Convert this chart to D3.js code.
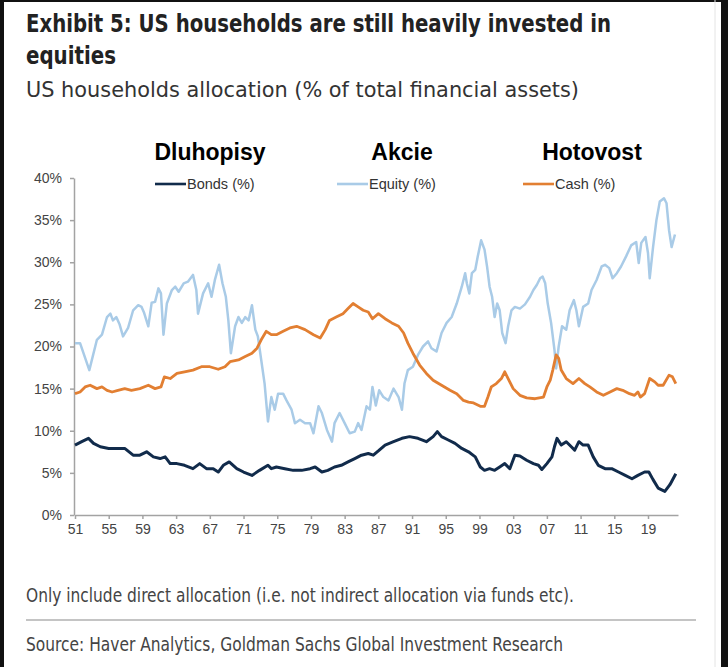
<!DOCTYPE html>
<html>
<head>
<meta charset="utf-8">
<script src="https://cdn.jsdelivr.net/npm/d3@7"></script>
<style>
  body { margin: 0; background: #fff; }
  .narrow { font-family: "Liberation Sans Narrow", "DejaVu Sans Condensed", "Roboto", sans-serif; }
  .tick text { font-family: "Liberation Sans", Arial, sans-serif; font-size: 14px; fill: #444; }
</style>
</head>
<body>
<div id="graf"></div>
<script>
// series (year, % of total financial assets)
const equityYears = [1951.0, 1951.6, 1952.7, 1953.6, 1954.2, 1954.8, 1955.2, 1955.5, 1955.9, 1956.3, 1956.7, 1957.3, 1957.9, 1958.5, 1958.9, 1959.2, 1959.7, 1960.1, 1960.5, 1960.9, 1961.2, 1961.5, 1961.9, 1962.5, 1962.9, 1963.3, 1963.9, 1964.4, 1965.0, 1965.4, 1965.6, 1966.2, 1966.8, 1967.2, 1967.6, 1968.1, 1968.5, 1968.9, 1969.2, 1969.5, 1970.0, 1970.4, 1970.8, 1971.2, 1971.6, 1972.0, 1972.4, 1972.7, 1973.1, 1973.5, 1973.9, 1974.3, 1974.7, 1975.1, 1975.7, 1976.1, 1976.7, 1977.1, 1977.7, 1978.3, 1978.9, 1979.3, 1979.9, 1980.3, 1980.9, 1981.5, 1981.8, 1982.4, 1983.0, 1983.6, 1984.2, 1984.6, 1985.0, 1985.6, 1986.0, 1986.3, 1986.7, 1987.1, 1987.6, 1988.2, 1988.8, 1989.4, 1989.8, 1990.1, 1990.5, 1991.1, 1991.7, 1992.3, 1992.9, 1993.3, 1993.9, 1994.5, 1995.1, 1995.7, 1996.3, 1996.9, 1997.3, 1997.5, 1997.8, 1998.1, 1998.5, 1998.8, 1999.2, 1999.6, 1999.9, 2000.2, 2000.5, 2000.8, 2001.1, 2001.4, 2001.7, 2002.1, 2002.4, 2002.8, 2003.2, 2003.8, 2004.4, 2005.0, 2005.4, 2005.8, 2006.2, 2006.5, 2006.8, 2007.1, 2007.5, 2007.9, 2008.1, 2008.4, 2008.8, 2009.3, 2009.7, 2010.2, 2010.5, 2010.8, 2011.3, 2011.9, 2012.3, 2012.9, 2013.5, 2013.9, 2014.4, 2014.8, 2015.3, 2015.8, 2016.4, 2017.0, 2017.6, 2017.9, 2018.2, 2018.7, 2019.0, 2019.2, 2019.6, 2020.0, 2020.4, 2020.9, 2021.2, 2021.5, 2021.8, 2022.2];
const equityValues = [20.4, 20.4, 17.2, 20.8, 21.4, 23.5, 23.9, 23.1, 23.5, 22.6, 21.2, 22.2, 24.3, 24.9, 24.7, 24.0, 22.4, 25.2, 25.3, 26.9, 26.3, 21.4, 25.1, 26.7, 27.1, 26.5, 27.5, 27.7, 28.5, 26.7, 23.9, 26.3, 27.5, 25.9, 27.9, 29.7, 27.5, 25.9, 23.1, 19.2, 22.4, 23.5, 22.8, 23.5, 23.1, 24.9, 22.0, 21.2, 18.4, 15.6, 11.1, 14.0, 12.5, 14.4, 14.4, 13.6, 12.5, 10.9, 11.3, 10.9, 10.9, 9.7, 12.9, 12.1, 10.1, 8.7, 10.9, 12.1, 10.9, 9.7, 9.9, 10.9, 10.1, 12.9, 12.5, 15.2, 13.0, 14.8, 14.0, 13.6, 15.0, 14.0, 12.5, 15.6, 17.2, 17.6, 19.0, 20.0, 20.6, 19.8, 19.4, 21.6, 22.8, 23.5, 25.1, 27.1, 28.7, 27.5, 26.3, 28.7, 29.1, 30.7, 32.6, 31.5, 29.5, 27.1, 25.9, 23.5, 25.1, 24.3, 21.6, 20.4, 22.4, 24.3, 24.7, 24.5, 25.0, 25.9, 26.7, 27.3, 28.1, 28.3, 27.5, 25.1, 22.8, 19.6, 17.4, 20.0, 22.4, 22.0, 24.3, 25.5, 24.3, 22.4, 24.7, 25.1, 26.7, 27.9, 29.5, 29.7, 29.3, 28.1, 28.7, 29.5, 30.7, 32.0, 32.4, 29.9, 32.3, 33.0, 31.1, 28.1, 31.8, 35.0, 37.2, 37.6, 37.0, 33.8, 31.8, 33.3];

const cashYears = [1951.0, 1951.6, 1952.2, 1952.8, 1953.6, 1954.2, 1954.8, 1955.4, 1956.1, 1956.9, 1957.7, 1958.7, 1959.7, 1960.5, 1961.2, 1961.6, 1962.3, 1963.1, 1964.0, 1965.0, 1966.0, 1967.0, 1968.0, 1968.8, 1969.4, 1970.4, 1971.2, 1972.0, 1972.6, 1973.1, 1973.7, 1974.3, 1974.9, 1975.7, 1976.5, 1977.3, 1978.3, 1979.3, 1980.1, 1980.7, 1981.2, 1982.0, 1982.8, 1983.4, 1984.0, 1984.6, 1985.2, 1985.8, 1986.3, 1987.0, 1987.8, 1988.6, 1989.4, 1990.0, 1990.5, 1991.1, 1991.9, 1992.7, 1993.5, 1994.5, 1995.5, 1996.3, 1997.1, 1997.7, 1998.3, 1999.1, 1999.6, 2000.0, 2000.4, 2001.0, 2001.6, 2002.0, 2002.4, 2003.0, 2003.8, 2004.6, 2005.6, 2006.6, 2007.0, 2007.4, 2007.7, 2008.1, 2008.4, 2008.7, 2009.3, 2010.1, 2010.8, 2011.5, 2012.1, 2012.9, 2013.7, 2014.5, 2015.3, 2016.0, 2016.8, 2017.4, 2017.8, 2018.1, 2018.6, 2019.2, 2019.8, 2020.2, 2020.8, 2021.5, 2021.9, 2022.3];
const cashValues = [14.4, 14.6, 15.2, 15.4, 15.0, 15.2, 14.8, 14.6, 14.8, 15.0, 14.8, 15.0, 15.4, 15.0, 15.2, 16.4, 16.2, 16.8, 17.0, 17.2, 17.6, 17.6, 17.3, 17.6, 18.2, 18.4, 18.8, 19.2, 19.8, 20.8, 21.8, 21.4, 21.4, 21.8, 22.2, 22.4, 22.0, 21.4, 21.0, 22.0, 23.1, 23.5, 23.9, 24.5, 25.1, 24.7, 24.3, 24.1, 23.3, 23.9, 23.3, 22.8, 22.4, 21.6, 20.4, 19.2, 17.8, 16.8, 16.0, 15.4, 14.8, 14.4, 13.6, 13.4, 13.3, 12.9, 12.9, 14.0, 15.2, 15.6, 16.2, 17.0, 16.2, 15.0, 14.2, 13.9, 13.8, 14.0, 15.2, 16.0, 17.2, 19.0, 18.6, 17.2, 16.2, 15.6, 16.2, 15.6, 15.2, 14.6, 14.2, 14.6, 15.0, 14.8, 14.4, 14.2, 14.6, 14.0, 14.4, 16.2, 15.8, 15.4, 15.4, 16.6, 16.4, 15.6];

const bondYears = [1951.0, 1951.8, 1952.6, 1953.2, 1954.0, 1955.0, 1955.9, 1956.9, 1957.9, 1958.7, 1959.5, 1960.3, 1961.1, 1961.7, 1962.3, 1963.1, 1964.0, 1965.0, 1965.8, 1966.6, 1967.4, 1968.0, 1968.6, 1969.3, 1970.2, 1971.0, 1972.0, 1972.9, 1973.9, 1974.3, 1974.9, 1975.9, 1976.9, 1977.9, 1978.9, 1979.5, 1980.3, 1981.0, 1981.8, 1982.6, 1983.4, 1984.2, 1985.0, 1985.8, 1986.4, 1987.0, 1987.8, 1988.8, 1989.8, 1990.7, 1991.7, 1992.7, 1993.5, 1994.0, 1994.5, 1995.3, 1996.1, 1996.9, 1997.7, 1998.5, 1999.1, 1999.6, 2000.2, 2000.8, 2001.4, 2002.0, 2002.6, 2003.2, 2003.8, 2004.6, 2005.4, 2006.0, 2006.4, 2007.0, 2007.6, 2007.9, 2008.2, 2008.7, 2009.3, 2009.9, 2010.3, 2010.8, 2011.3, 2011.9, 2012.5, 2013.1, 2013.9, 2014.7, 2015.5, 2016.3, 2017.1, 2017.8, 2018.6, 2019.1, 2019.6, 2020.2, 2021.0, 2021.6, 2022.3];
const bondValues = [8.3, 8.7, 9.1, 8.5, 8.1, 7.9, 7.9, 7.9, 7.1, 7.1, 7.5, 6.9, 6.7, 6.9, 6.1, 6.1, 5.9, 5.5, 6.1, 5.5, 5.5, 5.1, 5.9, 6.3, 5.5, 5.1, 4.7, 5.3, 5.9, 5.5, 5.7, 5.5, 5.3, 5.3, 5.5, 5.7, 5.1, 5.3, 5.7, 5.9, 6.3, 6.7, 7.1, 7.3, 7.1, 7.6, 8.3, 8.7, 9.1, 9.3, 9.1, 8.7, 9.3, 9.9, 9.3, 8.9, 8.5, 7.9, 7.5, 6.9, 5.7, 5.3, 5.5, 5.3, 5.7, 6.1, 5.5, 7.1, 7.0, 6.5, 6.1, 5.9, 5.4, 6.1, 6.9, 8.1, 9.1, 8.3, 8.7, 8.1, 7.7, 8.7, 8.3, 8.3, 6.9, 5.9, 5.5, 5.5, 5.1, 4.7, 4.3, 4.7, 5.1, 5.1, 4.2, 3.2, 2.8, 3.6, 4.9];

const xTicks = [1951, 1955, 1959, 1963, 1967, 1971, 1975, 1979, 1983, 1987, 1991, 1995, 1999, 2003, 2007, 2011, 2015, 2019];
const yTicks = [0, 5, 10, 15, 20, 25, 30, 35, 40];

const seriesNames = ["Bonds (%)", "Equity (%)", "Cash (%)"];
const overlayLabels = ["Dluhopisy", "Akcie", "Hotovost"];

const ancho_total = 728;
const alto_total = 667;

const svg = d3
  .select("#graf")
  .append("svg")
  .attr("width", ancho_total)
  .attr("height", alto_total)
  .style("display", "block");

svg.append("rect").attr("width", ancho_total).attr("height", alto_total).attr("fill", "#fff");

// dark frame edges of the screenshot
svg.append("rect").attr("x", 0).attr("y", 0).attr("width", 4).attr("height", alto_total).attr("fill", "#111");
svg.append("rect").attr("x", 721).attr("y", 0).attr("width", 7).attr("height", alto_total).attr("fill", "#111");
svg.append("rect").attr("x", 0).attr("y", 0).attr("width", ancho_total).attr("height", 2).attr("fill", "#111");
svg.append("line").attr("x1", 715).attr("x2", 715).attr("y1", 0).attr("y2", alto_total).attr("stroke", "#e4e4e4");

// titles
const narrowText = (txt, x, y, size, weight, len, fill) =>
  svg
    .append("text")
    .attr("class", "narrow")
    .attr("x", x)
    .attr("y", y)
    .attr("font-size", size)
    .attr("font-weight", weight)
    .attr("fill", fill)
    .attr("textLength", len)
    .attr("lengthAdjust", "spacingAndGlyphs")
    .text(txt);

narrowText("Exhibit 5: US households are still heavily invested in", 26, 32, 25, "bold", 585, "#222");
narrowText("equities", 26, 64, 25, "bold", 90, "#222");
narrowText("US households allocation (% of total financial assets)", 26, 97, 22, "normal", 553, "#333");
narrowText("Only include direct allocation (i.e. not indirect allocation via funds etc).", 26, 602, 19, "normal", 548, "#444");
narrowText("Source: Haver Analytics, Goldman Sachs Global Investment Research", 26, 651, 19, "normal", 537, "#444");

svg.append("line").attr("x1", 26).attr("x2", 696).attr("y1", 620).attr("y2", 620).attr("stroke", "#c4c4c4").attr("stroke-width", 2);

// scales
const x = d3.scaleLinear().domain([1951, 2022.56]).range([75, 678]);
const y = d3.scaleLinear().domain([0, 40]).range([515, 178]);

const axisColor = "#a3a3a3";

const gx = svg
  .append("g")
  .attr("transform", "translate(0,515)")
  .call(
    d3.axisBottom(x)
      .tickValues(xTicks)
      .tickFormat((d) => String(d).slice(2))
      .tickSize(4)
      .tickSizeOuter(0)
      .tickPadding(5)
  );
gx.select(".domain").attr("stroke", axisColor).attr("stroke-width", 1.5);
gx.selectAll(".tick line").attr("stroke", axisColor).attr("stroke-width", 1.5);

const gy = svg
  .append("g")
  .attr("transform", "translate(74,0)")
  .call(
    d3.axisLeft(y)
      .tickValues(yTicks)
      .tickFormat((d) => `${d}%`)
      .tickSize(4)
      .tickSizeOuter(0)
      .tickPadding(8)
  );
gy.select(".domain").attr("stroke", axisColor).attr("stroke-width", 1.5);
gy.selectAll(".tick line").attr("stroke", axisColor).attr("stroke-width", 1.5);

// lines
const series = [
  { name: seriesNames[1], years: equityYears, values: equityValues, color: "#a9cbe7", width: 2.5 },
  { name: seriesNames[2], years: cashYears, values: cashValues, color: "#e27f32", width: 2.8 },
  { name: seriesNames[0], years: bondYears, values: bondValues, color: "#112b4b", width: 3 },
];

const line = d3
  .line()
  .x((d) => x(d[0]))
  .y((d) => y(d[1]));

series.forEach((s) => {
  svg
    .append("path")
    .datum(d3.zip(s.years, s.values))
    .attr("fill", "none")
    .attr("stroke", s.color)
    .attr("stroke-width", s.width)
    .attr("stroke-linejoin", "round")
    .attr("d", line);
});

// legend
const legend = [
  { name: seriesNames[0], color: "#112b4b", x: 155, label: overlayLabels[0], cx: 210 },
  { name: seriesNames[1], color: "#a9cbe7", x: 337, label: overlayLabels[1], cx: 402 },
  { name: seriesNames[2], color: "#e27f32", x: 523, label: overlayLabels[2], cx: 592 },
];

legend.forEach((l) => {
  svg
    .append("line")
    .attr("x1", l.x)
    .attr("x2", l.x + 31)
    .attr("y1", 184)
    .attr("y2", 184)
    .attr("stroke", l.color)
    .attr("stroke-width", 2.6);
  svg
    .append("text")
    .attr("x", l.x + 32)
    .attr("y", 189)
    .attr("font-family", "Liberation Sans, Arial, sans-serif")
    .attr("font-size", 14.5)
    .attr("fill", "#333")
    .text(l.name);
  svg
    .append("text")
    .attr("x", l.cx)
    .attr("y", 160)
    .attr("text-anchor", "middle")
    .attr("font-family", "Liberation Sans, Arial, sans-serif")
    .attr("font-size", 23)
    .attr("font-weight", "bold")
    .attr("fill", "#000")
    .text(l.label);
});
</script>
</body>
</html>
